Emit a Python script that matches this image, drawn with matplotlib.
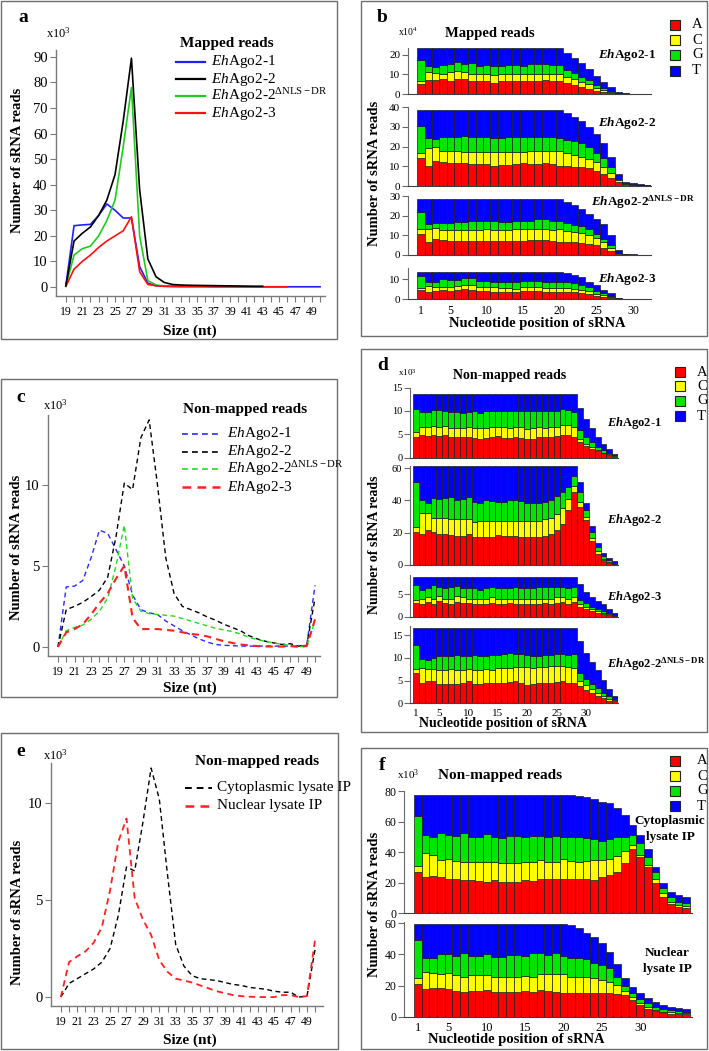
import numpy as np
import matplotlib
matplotlib.use('Agg')
import matplotlib.pyplot as plt
from matplotlib.lines import Line2D
from matplotlib.patches import Rectangle

plt.rcParams['font.family'] = ['Liberation Serif', 'DejaVu Serif']
plt.rcParams['mathtext.fontset'] = 'custom'
plt.rcParams['mathtext.rm'] = 'Liberation Serif'
plt.rcParams['mathtext.it'] = 'Liberation Serif:italic'
plt.rcParams['mathtext.bf'] = 'Liberation Serif:bold'
plt.rcParams['mathtext.bfit'] = 'Liberation Serif:italic:bold'

# ---------------- data ----------------
sizes = list(range(19, 51))

# a: mapped reads (x10^3)
a_ago21 = [0.5, 24, 24.3, 24.5, 28, 32.5, 30, 27, 27, 8, 1.5, 0.5, 0.3, 0.25, 0.2, 0.2, 0.2,
           0.2, 0.15, 0.15, 0.15, 0.1, 0.1, 0.1, 0.1, 0.1, 0.1, 0.1, 0.1, 0.1, 0.1, 0.1]
a_ago22 = [0.5, 18, 21, 23.5, 28, 34, 44, 65, 89.5, 38, 11, 4, 1.8, 1, 0.8, 0.7, 0.65,
           0.6, 0.55, 0.5, 0.45, 0.4, 0.35, 0.3, 0.3]
a_ago22d = [0.3, 12.5, 15, 16, 20, 26, 34, 55, 78, 20, 2.5, 0.8, 0.4, 0.3, 0.3, 0.3, 0.25,
            0.25, 0.2, 0.2, 0.2, 0.2, 0.2, 0.15, 0.15]
a_ago23 = [0.3, 7, 10, 12.5, 15.5, 18, 20, 22, 27.5, 6, 1, 0.5, 0.3, 0.25, 0.2, 0.2, 0.2,
           0.2, 0.15, 0.15, 0.15, 0.15, 0.1, 0.1, 0.1, 0.1, 0.1, 0.1]

# c: non-mapped reads (x10^3)
c_ago21 = [0, 3.7, 3.75, 4.1, 5.5, 7.2, 7.0, 6.0, 5.0, 3.2, 2.3, 2.1, 2.0, 1.6, 1.3, 1.0,
           0.75, 0.5, 0.3, 0.15, 0.1, 0.08, 0.05, 0.05, 0.05, 0.05, 0.05, 0.05, 0.05, 0.05, 0.1, 3.8]
c_ago22 = [0, 2.3, 2.5, 2.75, 3.1, 3.5, 4.3, 6.8, 10.1, 9.7, 12.9, 14.0, 10.0, 5.5, 3.3, 2.5,
           2.3, 2.1, 1.85, 1.65, 1.4, 1.2, 1.0, 0.7, 0.5, 0.35, 0.25, 0.15, 0.2, 0.05, 0.1, 3.0]
c_ago22d = [0, 1.0, 1.2, 1.35, 1.7, 2.2, 3.0, 5.0, 7.5, 3.0, 2.2, 2.05, 2.0, 1.95, 1.9, 1.75,
            1.6, 1.45, 1.3, 1.15, 1.05, 0.95, 0.8, 0.6, 0.45, 0.35, 0.25, 0.15, 0.1, 0.0, 0.05, 1.6]
c_ago23 = [0, 0.9, 1.1, 1.4, 2.0, 2.7, 3.3, 4.2, 5.0, 1.8, 1.1, 1.1, 1.1, 1.05, 1.0, 0.9,
           0.8, 0.75, 0.65, 0.5, 0.35, 0.25, 0.15, 0.1, 0.05, 0.03, 0.02, 0.02, 0.05, 0.0, 0.05, 1.7]

# e: non-mapped reads, lysate IP (x10^3)
e_cyto = [0, 0.7, 0.95, 1.2, 1.45, 1.8, 2.5, 4.2, 6.7, 6.5, 9.0, 11.8, 10.2, 6.3, 2.7, 1.6,
          1.1, 0.95, 0.9, 0.85, 0.75, 0.65, 0.6, 0.5, 0.45, 0.4, 0.3, 0.25, 0.25, 0.0, 0.05, 2.5]
e_nuc = [0, 1.8, 2.1, 2.35, 2.8, 3.6, 5.5, 8.0, 9.2, 5.1, 4.0, 3.2, 1.9, 1.3, 0.95, 0.85,
         0.75, 0.6, 0.45, 0.3, 0.2, 0.1, 0.05, 0.02, 0.0, 0.0, 0.0, 0.1, 0.1, 0.0, 0.05, 3.0]

# b: mapped reads, nucleotide composition (x10^4), cumulative tops A, A+C, A+C+G, total
b1_a = [5.2, 7.3, 7.0, 7.8, 6.8, 7.8, 7.8, 6.8, 6.8, 6.8, 5.7, 6.4, 6.4, 6.6, 6.6, 6.6, 6.8, 7.0, 6.6, 6.6,
        5.7, 4.7, 3.5, 2.6, 1.7, 1.0, 0.5, 0.3, 0.15, 0.08, 0.05, 0.04]
b1_ac = [6.4, 11.3, 10.8, 10.4, 11.3, 11.6, 11.0, 10.1, 9.9, 9.9, 9.6, 9.9, 9.9, 9.9, 9.9, 10.0, 10.3, 10.4, 10.0, 10.2,
         8.7, 7.5, 6.3, 4.9, 3.1, 2.1, 1.0, 0.5, 0.22, 0.12, 0.07, 0.06]
b1_acg = [17.4, 14.3, 13.6, 14.8, 15.3, 16.0, 15.3, 15.7, 14.3, 14.8, 14.3, 14.1, 14.8, 14.8, 14.4, 15.0, 15.0, 15.0, 14.6, 14.8,
          12.2, 10.8, 8.7, 7.0, 4.7, 3.1, 1.7, 0.7, 0.28, 0.16, 0.09, 0.08]
b1_tot = [23.1, 23.1, 23.1, 23.1, 23.1, 23.1, 23.1, 23.1, 23.1, 23.1, 23.1, 23.1, 23.1, 23.1, 23.1, 23.1, 23.1, 23.1, 23.1, 23.1,
          20.6, 18.3, 15.7, 12.7, 9.3, 6.2, 3.6, 1.0, 0.4, 0.25, 0.15, 0.12]

b2_a = [14.0, 10.3, 12.8, 12.3, 11.5, 11.5, 11.5, 11.1, 11.1, 11.1, 10.4, 10.9, 10.9, 11.1, 11.5, 11.3, 11.1, 11.5, 11.1, 10.4,
        10.1, 9.7, 9.4, 8.9, 7.7, 6.3, 4.3, 2.1, 0.9, 0.5, 0.3, 0.2]
b2_ac = [16.6, 19.1, 19.7, 17.8, 17.8, 17.8, 17.4, 17.4, 17.4, 17.4, 17.4, 17.4, 17.4, 17.4, 17.4, 17.8, 17.8, 17.8, 17.8, 17.8,
         16.6, 15.7, 14.9, 13.7, 12.0, 9.7, 6.7, 2.9, 1.2, 0.7, 0.45, 0.3]
b2_acg = [30.3, 24.3, 24.1, 25.1, 25.1, 25.1, 25.6, 25.1, 25.1, 25.1, 24.6, 24.3, 25.1, 24.8, 24.8, 25.1, 25.1, 24.8, 24.8, 24.3,
          23.4, 22.6, 21.7, 20.0, 16.9, 14.0, 9.7, 3.8, 1.5, 0.9, 0.6, 0.4]
b2_tot = [38.8, 38.8, 38.8, 38.8, 38.8, 38.8, 38.8, 38.8, 38.8, 38.8, 38.8, 38.8, 38.8, 38.8, 38.8, 38.8, 38.8, 38.8, 38.8, 38.8,
          37.1, 35.0, 32.8, 29.9, 26.3, 22.0, 14.9, 6.3, 2.2, 1.3, 0.8, 0.5]

b3_a = [10.7, 6.5, 8.2, 7.5, 7.0, 7.0, 7.0, 7.0, 7.0, 7.3, 7.0, 7.0, 7.0, 7.0, 7.2, 7.5, 7.8, 7.8, 7.0, 6.5,
        6.5, 6.5, 6.0, 5.8, 5.3, 3.8, 2.2, 0.5, 0.2, 0.1, 0.06, 0.05]
b3_ac = [13.0, 13.0, 13.5, 12.5, 12.5, 12.5, 12.5, 12.8, 12.8, 13.0, 12.8, 12.5, 12.5, 13.0, 13.0, 13.0, 13.2, 13.2, 12.8, 13.0,
         12.0, 11.5, 11.0, 10.0, 8.5, 6.5, 3.5, 0.8, 0.3, 0.15, 0.09, 0.07]
b3_acg = [22.0, 16.0, 16.5, 16.5, 16.5, 17.0, 17.0, 17.5, 17.5, 17.5, 17.5, 17.0, 17.0, 17.5, 17.5, 17.5, 18.5, 18.5, 17.5, 17.5,
          16.5, 15.5, 14.5, 13.0, 10.5, 8.0, 5.0, 1.2, 0.45, 0.22, 0.12, 0.09]
b3_tot = [28.3, 28.3, 28.3, 28.3, 28.3, 28.3, 28.3, 28.3, 28.3, 28.3, 28.3, 28.3, 28.3, 28.3, 28.3, 28.3, 28.3, 28.3, 28.3, 28.3,
          27.0, 25.4, 23.2, 21.0, 18.5, 16.0, 10.3, 2.5, 0.6, 0.3, 0.2, 0.1]

b4_a = [4.6, 3.7, 4.1, 4.6, 4.2, 4.6, 4.9, 4.6, 4.1, 4.2, 3.7, 3.7, 3.7, 3.4, 4.1, 4.2, 4.2, 3.7, 3.6, 3.4,
        3.5, 3.3, 3.0, 2.5, 1.5, 1.0, 0.6, 0.2, 0.05, 0.03, 0.0, 0.0]
b4_ac = [5.4, 6.6, 5.9, 6.3, 6.3, 6.6, 7.1, 7.1, 5.9, 5.9, 5.9, 5.4, 5.7, 5.3, 5.9, 6.3, 6.3, 5.7, 5.7, 5.4,
         5.5, 5.2, 4.8, 4.0, 2.6, 1.8, 1.1, 0.35, 0.1, 0.05, 0.0, 0.0]
b4_acg = [11.4, 8.8, 8.8, 10.0, 9.7, 9.7, 10.5, 10.5, 9.3, 9.3, 8.8, 8.8, 8.8, 8.5, 9.2, 9.3, 9.3, 8.8, 8.8, 8.6,
          8.5, 8.0, 7.2, 6.0, 4.0, 2.8, 1.7, 0.5, 0.15, 0.08, 0.0, 0.0]
b4_tot = [13.9, 13.9, 13.9, 13.9, 13.9, 13.9, 13.9, 13.9, 13.9, 13.9, 13.9, 13.9, 13.9, 13.9, 13.9, 13.9, 13.9, 13.9, 13.9, 13.9,
          13.4, 12.2, 11.0, 8.8, 7.1, 4.6, 2.9, 0.7, 0.2, 0.1, 0.0, 0.0]

# d: non-mapped reads, nucleotide composition (x10^3)
d1_a = [4.4, 4.9, 4.6, 4.9, 4.6, 4.9, 4.4, 4.4, 4.4, 4.4, 4.2, 4.1, 4.3, 4.4, 4.6, 4.3, 4.3, 4.4, 4.3, 4.1,
        4.1, 4.4, 4.4, 4.4, 4.6, 4.9, 4.8, 4.4, 3.4, 2.6, 1.9, 1.4, 0.9, 0.5, 0.2]
d1_ac = [5.5, 6.6, 6.6, 6.7, 6.6, 6.8, 6.4, 6.4, 6.4, 6.5, 6.4, 6.4, 6.4, 6.5, 6.5, 6.5, 6.4, 6.5, 6.5, 6.2,
         6.3, 6.5, 6.4, 6.5, 6.6, 6.9, 6.9, 6.6, 4.1, 3.0, 2.3, 1.6, 1.1, 0.7, 0.35]
d1_acg = [10.4, 9.8, 9.8, 10.1, 10.1, 9.9, 9.8, 9.8, 9.6, 9.8, 9.9, 9.6, 10.0, 10.0, 9.9, 9.9, 9.9, 9.9, 9.9, 9.9,
          9.9, 9.9, 10.0, 10.0, 10.0, 10.3, 10.1, 9.8, 5.9, 4.4, 3.4, 2.3, 1.7, 1.0, 0.5]
d1_tot = [13.6, 13.6, 13.6, 13.6, 13.6, 13.6, 13.6, 13.6, 13.6, 13.6, 13.6, 13.6, 13.6, 13.6, 13.6, 13.6, 13.6, 13.6, 13.6, 13.6,
          13.6, 13.6, 13.6, 13.6, 13.6, 13.6, 13.6, 13.6, 10.6, 8.3, 6.3, 4.4, 2.9, 1.8, 0.8]

d2_a = [20.6, 19.0, 21.6, 20.2, 19.2, 19.2, 18.6, 18.1, 18.1, 19.0, 17.5, 17.5, 17.5, 17.5, 18.6, 17.9, 17.9, 17.9, 17.5, 17.1,
        17.5, 17.5, 17.9, 19.5, 21.5, 25.5, 34.0, 45.0, 36.0, 28.0, 15.0, 7.0, 3.0, 1.3, 0.5]
d2_ac = [23.7, 32.0, 32.0, 28.9, 28.9, 28.9, 28.2, 28.2, 28.2, 28.2, 26.8, 27.2, 27.2, 27.2, 27.2, 27.2, 27.2, 27.2, 27.2, 27.2,
         27.2, 27.2, 28.2, 29.0, 31.5, 35.0, 41.0, 49.0, 39.0, 30.0, 17.0, 8.5, 4.0, 2.0, 0.8]
d2_acg = [51.5, 40.2, 38.6, 41.2, 40.8, 41.2, 41.9, 40.2, 40.8, 41.9, 39.2, 38.6, 40.2, 39.8, 39.2, 39.2, 40.2, 40.2, 39.6, 38.1,
          38.1, 38.1, 39.2, 40.0, 42.5, 45.0, 48.5, 55.0, 45.5, 34.0, 20.5, 11.0, 5.5, 3.0, 1.3]
d2_tot = [61.0, 61.0, 61.0, 61.0, 61.0, 61.0, 61.0, 61.0, 61.0, 61.0, 61.0, 61.0, 61.0, 61.0, 61.0, 61.0, 61.0, 61.0, 61.0, 61.0,
          61.0, 61.0, 61.0, 61.0, 61.0, 61.0, 61.0, 61.0, 51.5, 38.5, 24.0, 13.5, 7.5, 4.5, 2.2]

d3_a = [3.1, 2.7, 3.2, 2.9, 3.5, 3.1, 2.9, 3.3, 3.1, 3.1, 2.8, 2.9, 2.9, 3.1, 2.9, 2.9, 3.1, 2.8, 2.8, 2.8,
        2.9, 2.9, 3.1, 2.9, 3.1, 3.3, 2.9, 3.3, 2.2, 1.6, 1.25, 0.9, 0.6, 0.35, 0.15]
d3_ac = [3.7, 4.0, 4.3, 4.0, 4.6, 4.0, 4.0, 4.6, 4.3, 4.0, 3.9, 4.0, 4.0, 4.3, 4.0, 3.9, 4.0, 3.9, 4.0, 4.0,
         4.0, 4.0, 4.0, 4.0, 4.3, 4.4, 4.0, 4.4, 2.8, 2.2, 1.6, 1.25, 0.8, 0.5, 0.25]
d3_acg = [7.0, 6.0, 6.3, 7.0, 6.6, 6.3, 6.5, 6.8, 6.3, 6.3, 6.3, 6.0, 6.3, 6.5, 6.3, 6.3, 6.3, 6.5, 6.3, 6.3,
          6.3, 6.5, 6.5, 6.5, 6.5, 6.6, 6.3, 6.6, 3.7, 3.1, 2.2, 1.8, 1.2, 0.75, 0.4]
d3_tot = [8.8, 8.8, 8.8, 8.8, 8.8, 8.8, 8.8, 8.8, 8.8, 8.8, 8.8, 8.8, 8.8, 8.8, 8.8, 8.8, 8.8, 8.8, 8.8, 8.8,
          8.8, 8.8, 8.8, 8.8, 8.8, 8.8, 8.8, 8.8, 7.2, 5.5, 4.4, 3.5, 2.7, 1.8, 0.9]

d4_a = [6.6, 4.4, 5.0, 4.8, 4.2, 4.2, 4.2, 4.2, 4.4, 4.8, 4.2, 4.2, 4.4, 4.4, 4.5, 4.5, 4.6, 4.8, 4.4, 4.0,
        4.2, 4.4, 4.5, 4.5, 4.6, 4.8, 4.5, 4.4, 3.7, 2.9, 2.2, 1.6, 1.1, 0.6, 0.4]
d4_ac = [7.5, 7.7, 7.5, 7.5, 7.3, 7.3, 7.5, 7.3, 7.3, 7.5, 7.3, 7.3, 7.5, 7.3, 7.7, 7.7, 7.7, 7.9, 7.9, 7.9,
         7.7, 7.9, 7.9, 8.1, 8.1, 8.1, 7.9, 7.7, 4.8, 4.0, 3.1, 2.3, 1.6, 1.0, 0.7]
d4_acg = [12.8, 9.7, 9.5, 10.0, 10.3, 10.4, 10.4, 10.6, 10.4, 10.3, 10.6, 10.4, 10.3, 10.6, 10.6, 10.8, 11.1, 10.9, 10.8, 10.6,
          10.4, 10.4, 10.6, 10.6, 10.8, 10.8, 10.6, 10.9, 6.6, 5.3, 4.2, 3.3, 2.3, 1.5, 1.0]
d4_tot = [16.6, 16.6, 16.6, 16.6, 16.6, 16.6, 16.6, 16.6, 16.6, 16.6, 16.6, 16.6, 16.6, 16.6, 16.6, 16.6, 16.6, 16.6, 16.6, 16.6,
          16.6, 16.6, 16.6, 16.6, 16.6, 16.6, 16.6, 16.6, 13.6, 11.1, 9.0, 7.3, 5.1, 3.1, 1.5]

# f: non-mapped reads, lysate IP composition (x10^3)
f1_a = [26.8, 23.5, 24.6, 24.0, 22.4, 22.4, 21.8, 21.8, 21.4, 20.7, 21.8, 20.3, 20.7, 20.7, 21.8, 21.1, 22.2, 22.2, 22.2, 22.2,
        22.2, 22.4, 22.2, 22.0, 23.5, 25.0, 27.2, 33.1, 41.8, 37.0, 30.5, 20.0, 10.9, 6.1, 4.4, 3.7]
f1_ac = [30.9, 39.2, 38.1, 34.9, 35.3, 34.4, 33.3, 33.8, 33.8, 33.8, 33.3, 32.7, 32.7, 32.7, 33.8, 33.8, 34.9, 33.8, 33.8, 35.3,
         34.4, 33.8, 34.4, 34.9, 35.0, 35.3, 37.5, 41.0, 45.0, 38.1, 31.6, 22.2, 13.0, 7.6, 5.4, 4.8]
f1_acg = [63.6, 51.2, 49.7, 52.7, 51.2, 50.5, 52.3, 50.1, 50.1, 51.6, 49.7, 49.0, 50.5, 50.5, 49.7, 50.5, 50.5, 49.7, 50.5, 50.1,
          49.7, 49.7, 49.0, 48.5, 47.0, 48.6, 50.1, 50.1, 51.2, 45.8, 37.0, 27.2, 16.3, 10.9, 7.6, 6.5]
f1_tot = [77.5, 77.5, 77.5, 77.5, 77.5, 77.5, 77.5, 77.5, 77.5, 77.5, 77.5, 77.5, 77.5, 77.5, 77.5, 77.5, 77.5, 77.5, 77.5, 77.5,
          77.3, 76.7, 75.8, 74.5, 73.0, 71.9, 68.6, 64.3, 57.7, 51.2, 41.8, 30.5, 19.6, 14.2, 12.0, 10.9]

f2_a = [20.8, 17.6, 18.6, 18.2, 17.6, 16.7, 16.0, 16.5, 16.5, 17.1, 16.0, 16.0, 16.0, 16.0, 16.5, 16.0, 17.1, 16.7, 16.0, 15.4,
        15.4, 15.4, 15.4, 15.4, 15.4, 15.0, 14.3, 14.0, 10.5, 7.5, 5.0, 3.5, 2.5, 2.0, 1.8, 1.6]
f2_ac = [24.6, 28.5, 27.8, 27.4, 28.3, 26.8, 25.7, 26.8, 26.8, 26.8, 25.7, 25.7, 25.3, 25.7, 26.1, 25.3, 27.4, 27.2, 27.4, 27.4,
         25.7, 25.3, 25.3, 24.6, 23.6, 22.5, 20.3, 16.5, 12.5, 9.0, 6.3, 4.5, 3.3, 2.7, 2.4, 2.1]
f2_acg = [49.3, 37.9, 37.5, 40.3, 40.0, 39.0, 40.7, 39.0, 39.0, 40.0, 38.5, 38.1, 39.6, 39.6, 39.0, 40.7, 41.1, 39.6, 40.7, 39.2,
          37.9, 37.9, 36.8, 34.7, 33.2, 31.0, 25.7, 20.0, 15.5, 11.5, 8.5, 6.5, 5.0, 4.0, 3.5, 3.0]
f2_tot = [59.5, 59.5, 59.5, 59.5, 59.5, 59.5, 59.5, 59.5, 59.5, 59.5, 59.5, 59.5, 59.5, 59.5, 59.5, 59.5, 59.5, 59.5, 59.5, 59.5,
          58.9, 56.7, 54.0, 51.0, 47.1, 41.8, 33.6, 24.6, 19.3, 15.0, 11.8, 9.6, 7.5, 6.0, 5.4, 4.7]

ago_labels = [r'$\mathit{Eh}$Ago2-1', r'$\mathit{Eh}$Ago2-2',
              r'$\mathit{Eh}$Ago2-2$^{\Delta\mathrm{NLS-DR}}$', r'$\mathit{Eh}$Ago2-3']
bases = ['A', 'C', 'G', 'T']
base_colors = ['#ff0000', '#ffff00', '#00e600', '#0000ff']
pos_ticks = [1, 5, 10, 15, 20, 25, 30]

# ---------------- layout helpers (pixel coords, origin top-left) ----------------
W, H = 709, 1051
fig = plt.figure(figsize=(W / 100, H / 100), dpi=100)
SPINE = '#7a7a7a'


def px_axes(x0, y0, x1, y1):
    return fig.add_axes([x0 / W, 1 - y1 / H, (x1 - x0) / W, (y1 - y0) / H])


def ftext(x, y, s, **kw):
    return fig.text(x / W, 1 - y / H, s, **kw)


def frame(x0, y0, x1, y1):
    fig.add_artist(Rectangle((x0 / W, 1 - y1 / H), (x1 - x0) / W, (y1 - y0) / H,
                             transform=fig.transFigure, fill=False, ec='#6e6e6e', lw=1.0))


def line_axes(box, xlim, ylim, yticks, ysize=10.5):
    ax = px_axes(*box)
    ax.set_xlim(xlim)
    ax.set_ylim(ylim)
    ax.patch.set_alpha(0)
    for s in ['top', 'right']:
        ax.spines[s].set_visible(False)
    for s in ['left', 'bottom']:
        ax.spines[s].set_color(SPINE)
        ax.spines[s].set_linewidth(1.0)
    ax.set_xticks(sizes)
    ax.set_xticklabels([str(v) if v % 2 == 1 else '' for v in sizes])
    ax.set_yticks(yticks)
    ax.tick_params(axis='x', direction='out', color=SPINE, length=4, width=0.8, labelsize=8.5, pad=3)
    ax.tick_params(axis='y', direction='out', color=SPINE, length=4, width=0.8, labelsize=ysize, pad=2)
    return ax


def line_legend(x0, x1, xt, ys, colors, labels, dashed, lws, size=11):
    for y, c, lab, lw in zip(ys, colors, labels, lws):
        ls = (0, (3.5, 2.5)) if dashed else '-'
        fig.add_artist(Line2D([x0 / W, x1 / W], [1 - y / H, 1 - y / H], color=c, lw=lw, ls=ls,
                              transform=fig.transFigure))
        ftext(xt, y, lab, ha='left', va='center', fontsize=size)


def base_legend(xs, xt, ys):
    for y, c, b in zip(ys, base_colors, bases):
        fig.add_artist(Rectangle(((xs - 5) / W, 1 - (y + 5) / H), 10 / W, 10 / H,
                                 transform=fig.transFigure, fc=c, ec='#222222', lw=0.8))
        ftext(xt, y, b, ha='left', va='center', fontsize=10.5)


def stack_axes(box, xlim, ylim, yticks, a, ac, acg, tot, bottom=False, ysize=8):
    ax = px_axes(*box)
    a, ac, acg, tot = (np.asarray(v, dtype=float) for v in (a, ac, acg, tot))
    pos = np.arange(1, len(a) + 1)
    lows = [np.zeros_like(a), a, ac, acg]
    highs = [a, ac, acg, tot]
    for lo, hi, col in zip(lows, highs, base_colors):
        ax.bar(pos, hi - lo, bottom=lo, width=1.0, color=col, edgecolor='#1e1e1e', linewidth=0.5)
    ax.set_xlim(xlim)
    ax.set_ylim(ylim)
    ax.patch.set_alpha(0)
    for s in ['top', 'right']:
        ax.spines[s].set_visible(False)
    ax.spines['left'].set_color('#6a6a6a')
    ax.spines['bottom'].set_color('#404040')
    ax.set_yticks(yticks)
    ax.tick_params(axis='y', direction='out', color='#6a6a6a', length=4, width=0.8, labelsize=ysize, pad=1.5)
    if bottom:
        ax.set_xticks(pos_ticks)
        ax.tick_params(axis='x', length=0, labelsize=ysize + 0.5, pad=4)
    else:
        ax.set_xticks([])
    return ax


# ---------------- panel frames ----------------
frame(1, 1, 337, 339)
frame(361, 1, 707, 336)
frame(1, 379, 337, 697)
frame(361, 349, 707, 732)
frame(1, 733, 338, 1049)
frame(361, 748, 707, 1049)

# ---------------- panel a ----------------
ax = line_axes((56, 50, 325, 296), (17.8, 50.6), (-3.5, 92.7), range(0, 91, 10))
ax.plot(sizes[:len(a_ago21)], a_ago21, color='#1f1fff', lw=1.2)
ax.plot(sizes[:len(a_ago22d)], a_ago22d, color='#1ecc1e', lw=1.2)
ax.plot(sizes[:len(a_ago23)], a_ago23, color='#ff1010', lw=1.2)
ax.plot(sizes[:len(a_ago22)], a_ago22, color='black', lw=1.2)
ftext(23, 18, 'a', fontsize=14, fontweight='bold', ha='center', va='center')
ftext(58, 33, r'x10$^3$', fontsize=9, ha='center', va='center')
ftext(227, 43, 'Mapped reads', fontsize=11, fontweight='bold', ha='center', va='center')
line_legend(176, 205, 211, [62, 79, 96, 113], ['#1f1fff', 'black', '#1ecc1e', '#ff1010'],
            ago_labels, False, [1.6, 1.6, 1.6, 1.6])
ftext(18, 160, 'Number of sRNA reads', rotation=90, fontsize=10.5, fontweight='bold', ha='center', va='center')
ftext(190, 331, 'Size (nt)', fontsize=11, fontweight='bold', ha='center', va='center')

# ---------------- panel b ----------------
bx = (-0.77, 32.47)
stack_axes((408, 47.5, 651, 94), bx, (0, 23.6), [0, 10, 20], b1_a, b1_ac, b1_acg, b1_tot)
stack_axes((408, 107, 651, 186), bx, (0, 40.1), [0, 10, 20, 30, 40], b2_a, b2_ac, b2_acg, b2_tot)
stack_axes((408, 196, 651, 255), bx, (0, 30), [0, 10, 20, 30], b3_a, b3_ac, b3_acg, b3_tot)
stack_axes((408, 268, 651, 299), bx, (0, 15.7), [0, 10], b4_a, b4_ac, b4_acg, b4_tot, bottom=True)
ftext(382, 17, 'b', fontsize=14, fontweight='bold', ha='center', va='center')
ftext(408, 32, r'x10$^4$', fontsize=7, ha='center', va='center')
ftext(490, 33, 'Mapped reads', fontsize=10.5, fontweight='bold', ha='center', va='center')
base_legend(675, 692, [25, 40, 55, 71])
ftext(627, 55, r'$\mathbfit{Eh}$Ago2-1', fontsize=9.5, fontweight='bold', ha='center', va='center')
ftext(627, 123, r'$\mathbfit{Eh}$Ago2-2', fontsize=9.5, fontweight='bold', ha='center', va='center')
ftext(643, 202, r'$\mathbfit{Eh}$Ago2-2$^{\mathbf{\Delta NLS-DR}}$', fontsize=9.5, fontweight='bold',
      ha='center', va='center')
ftext(627, 279, r'$\mathbfit{Eh}$Ago2-3', fontsize=9.5, fontweight='bold', ha='center', va='center')
ftext(375, 173, 'Number of sRNA reads', rotation=90, fontsize=10.5, fontweight='bold', ha='center', va='center')
ftext(537, 324, 'Nucleotide position of sRNA', fontsize=10.5, fontweight='bold', ha='center', va='center')

# ---------------- panel c ----------------
ax = line_axes((48, 415, 320, 656), (17.8, 50.6), (-0.56, 14.3), [0, 5, 10])
dash = (0, (3.5, 2.5))
ax.plot(sizes, c_ago21, color='#2b2bff', lw=1.0, ls=dash)
ax.plot(sizes, c_ago22, color='black', lw=1.0, ls=dash)
ax.plot(sizes, c_ago22d, color='#22d822', lw=1.0, ls=dash)
ax.plot(sizes, c_ago23, color='#ff2020', lw=1.5, ls=dash)
ftext(21, 398, 'c', fontsize=14, fontweight='bold', ha='center', va='center')
ftext(55, 405, r'x10$^3$', fontsize=9, ha='center', va='center')
ftext(245, 410, 'Non-mapped reads', fontsize=11, fontweight='bold', ha='center', va='center')
line_legend(182, 220, 227, [434, 452, 469, 487], ['#2b2bff', 'black', '#22d822', '#ff2020'],
            ago_labels, True, [1.2, 1.2, 1.2, 1.8])
ftext(17, 547, 'Number of sRNA reads', rotation=90, fontsize=10.5, fontweight='bold', ha='center', va='center')
ftext(190, 688, 'Size (nt)', fontsize=11, fontweight='bold', ha='center', va='center')

# ---------------- panel d ----------------
dx = (-0.01, 35.48)
stack_axes((410, 387.5, 618, 457.7), dx, (0, 15), [0, 5, 10, 15], d1_a, d1_ac, d1_acg, d1_tot, ysize=7.5)
stack_axes((410, 466, 618, 565), dx, (0, 61.3), [0, 20, 40, 60], d2_a, d2_ac, d2_acg, d2_tot, ysize=7.5)
stack_axes((410, 575, 618, 616.7), dx, (0, 9.2), [0, 5], d3_a, d3_ac, d3_acg, d3_tot, ysize=7.5)
stack_axes((410, 626, 618, 703.3), dx, (0, 17), [0, 5, 10, 15], d4_a, d4_ac, d4_acg, d4_tot,
           bottom=True, ysize=7.5)
ftext(383, 365, 'd', fontsize=14, fontweight='bold', ha='center', va='center')
ftext(407, 373, r'x10$^3$', fontsize=6.5, ha='center', va='center')
ftext(510, 375, 'Non-mapped reads', fontsize=10, fontweight='bold', ha='center', va='center')
base_legend(680, 697, [372, 386, 401, 416])
ftext(607, 423, r'$\mathbfit{Eh}$Ago2-1', fontsize=9, fontweight='bold', ha='left', va='center')
ftext(607, 520, r'$\mathbfit{Eh}$Ago2-2', fontsize=9, fontweight='bold', ha='left', va='center')
ftext(607, 597, r'$\mathbfit{Eh}$Ago2-3', fontsize=9, fontweight='bold', ha='left', va='center')
ftext(607, 664, r'$\mathbfit{Eh}$Ago2-2$^{\mathbf{\Delta NLS-DR}}$', fontsize=9, fontweight='bold',
      ha='left', va='center')
ftext(375, 545, 'Number of sRNA reads', rotation=90, fontsize=10, fontweight='bold', ha='center', va='center')
ftext(503, 723, 'Nucleotide position of sRNA', fontsize=10, fontweight='bold', ha='center', va='center')

# ---------------- panel e ----------------
ax = line_axes((51, 763, 323, 1006), (17.8, 50.95), (-0.46, 12.06), [0, 5, 10])
ax.plot(sizes, e_cyto, color='black', lw=1.0, ls=dash)
ax.plot(sizes, e_nuc, color='#ff2020', lw=1.3, ls=dash)
ftext(21, 752, 'e', fontsize=14, fontweight='bold', ha='center', va='center')
ftext(55, 755, r'x10$^3$', fontsize=9, ha='center', va='center')
ftext(257, 762, 'Non-mapped reads', fontsize=11, fontweight='bold', ha='center', va='center')
line_legend(185, 212, 217, [788, 806], ['black', '#ff2020'],
            ['Cytoplasmic lysate IP', 'Nuclear lysate IP'], True, [1.4, 1.8], size=11)
ftext(18, 912, 'Number of sRNA reads', rotation=90, fontsize=10.5, fontweight='bold', ha='center', va='center')
ftext(190, 1040, 'Size (nt)', fontsize=11, fontweight='bold', ha='center', va='center')

# ---------------- panel f ----------------
fx = (-0.80, 36.75)
stack_axes((404, 791, 692, 913.3), fx, (0, 80), [0, 20, 40, 60, 80], f1_a, f1_ac, f1_acg, f1_tot, ysize=8.5)
stack_axes((404, 921.8, 692, 1016.7), fx, (0, 61), [0, 20, 40, 60], f2_a, f2_ac, f2_acg, f2_tot,
           bottom=True, ysize=8.5)
ftext(382, 765, 'f', fontsize=14, fontweight='bold', ha='center', va='center')
ftext(408, 775, r'x10$^3$', fontsize=8, ha='center', va='center')
ftext(500, 776, 'Non-mapped reads', fontsize=11, fontweight='bold', ha='center', va='center')
base_legend(675, 697, [761, 776, 791, 806])
ftext(670, 829, 'Cytoplasmic\nlysate IP', fontsize=9.5, fontweight='bold', ha='center', va='center',
      linespacing=1.35)
ftext(667, 961, 'Nuclear\nlysate IP', fontsize=9.5, fontweight='bold', ha='center', va='center',
      linespacing=1.35)
ftext(375, 904, 'Number of sRNA reads', rotation=90, fontsize=10.5, fontweight='bold', ha='center', va='center')
ftext(516, 1039, 'Nucleotide position of sRNA', fontsize=10.5, fontweight='bold', ha='center', va='center')

fig.savefig('out.png', dpi=100)
